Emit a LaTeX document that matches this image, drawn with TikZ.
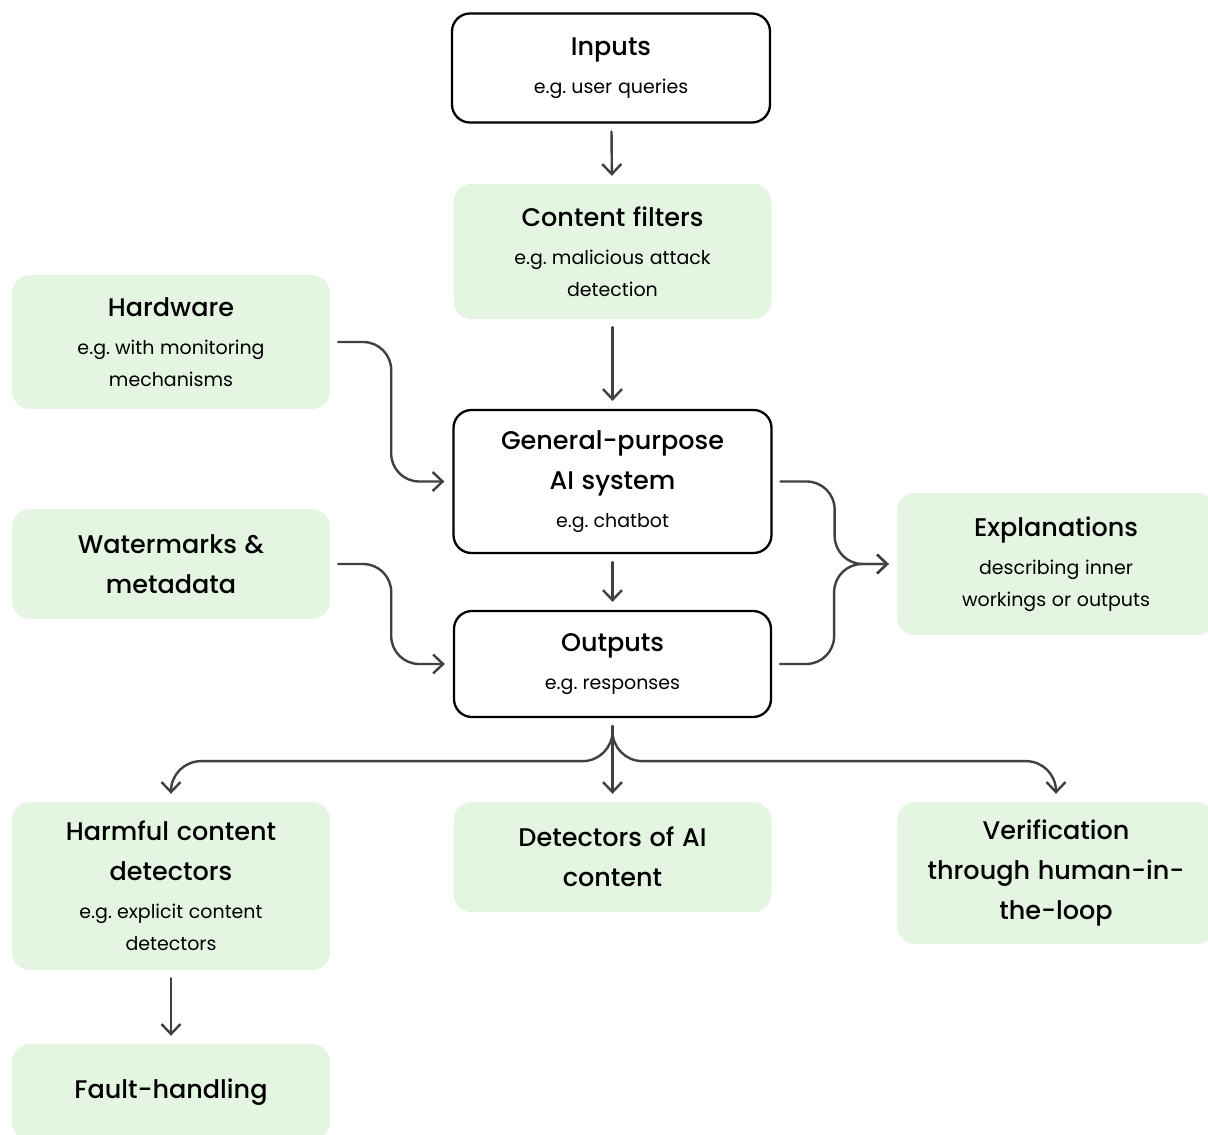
\documentclass[tikz,border=0pt]{standalone}
\usepackage{fontspec}
\setmainfont{Poppins}
\newfontfamily\titlefont{Poppins}[UprightFont=* Medium]
\usetikzlibrary{arrows.meta,positioning,calc}
\definecolor{boxgreen}{HTML}{E4F5E2}
\definecolor{linegray}{HTML}{404040}
\newcommand{\ttl}[1]{{\titlefont\fontsize{25.5}{40}\selectfont\spaceskip=0.3em #1\par}}
\newcommand{\sbt}[1]{{\fontsize{19}{32}\selectfont\spaceskip=0.3em\vspace{6pt}#1\par}}
\tikzset{
    basic box/.style={rectangle, rounded corners=18pt, minimum width=318pt, text width=300pt, align=center, inner sep=0pt},
    plain box/.style={basic box, draw=black, line width=2.3pt, fill=white},
    green box/.style={basic box, fill=boxgreen},
    conn/.style={draw=linegray, line width=2.4pt, line cap=round, -{Straight Barb[length=10pt,width=19pt]}, shorten <=8pt, shorten >=8pt},
    bend conn/.style={conn, rounded corners=28pt}
}
\begin{document}
\begin{tikzpicture}[x=1pt,y=-1pt]
    \useasboundingbox (0,0) rectangle (1208,1135);
    % main column
    \node[plain box, minimum height=109pt] (inputs) at (611,68) {\ttl{Inputs}\sbt{e.g. user queries}};
    \node[green box, minimum height=135pt] (cfilter) at (612.5,251.5) {\ttl{Content filters}\sbt{e.g. malicious attack\\detection}};
    \node[plain box, minimum height=143pt] (gpai) at (612.5,481.5) {\ttl{General-purpose\\AI system}\sbt{e.g. chatbot}};
    \node[plain box, minimum height=106pt, minimum width=317pt] (outputs) at (612.5,664) {\ttl{Outputs}\sbt{e.g. responses}};
    % left column
    \node[green box, minimum height=134pt] (hardware) at (171,342) {\ttl{Hardware}\sbt{e.g. with monitoring\\mechanisms}};
    \node[green box, minimum height=110pt] (watermark) at (171,564) {\ttl{Watermarks \&\\metadata}};
    % right side
    \node[green box, minimum height=142pt] (explain) at (1056,564) {\ttl{Explanations}\sbt{describing inner\\workings or outputs}};
    % bottom row
    \node[green box, minimum height=168pt] (harmful) at (171,886) {\ttl{Harmful content\\detectors}\sbt{e.g. explicit content\\detectors}};
    \node[green box, minimum height=110pt] (aidetect) at (612.5,857) {\ttl{Detectors of AI\\content}};
    \node[green box, minimum height=142pt] (verify) at (1056,873) {\ttl{Verification\\through human-in-\\the-loop}};
    \node[green box, minimum height=96pt] (fault) at (171,1092) {\ttl{Fault-handling}};

    \draw[conn] (inputs) -- (cfilter);
    \draw[conn] (cfilter) -- (gpai);
    \draw[conn] (gpai) -- (outputs);
    \draw[bend conn] (hardware.east) -- ++(61,0) |- (gpai.west);
    \draw[bend conn] (watermark.east) -- ++(61,0) |- (outputs.west);
    \draw[bend conn] (gpai.east) -- ++(62,0) |- (explain.west);
    \draw[bend conn] (outputs.east) -- ++(62,0) |- (explain.west);
    \coordinate (split) at (outputs.south);
    \draw[conn] (split) -- (aidetect);
    \draw[bend conn, rounded corners=30pt] (split) -- ++(0,43) -| (harmful.north);
    \draw[bend conn, rounded corners=30pt] (split) -- ++(0,43) -| (verify.north);
    \draw[conn] (harmful) -- (fault);
\end{tikzpicture}
\end{document}
